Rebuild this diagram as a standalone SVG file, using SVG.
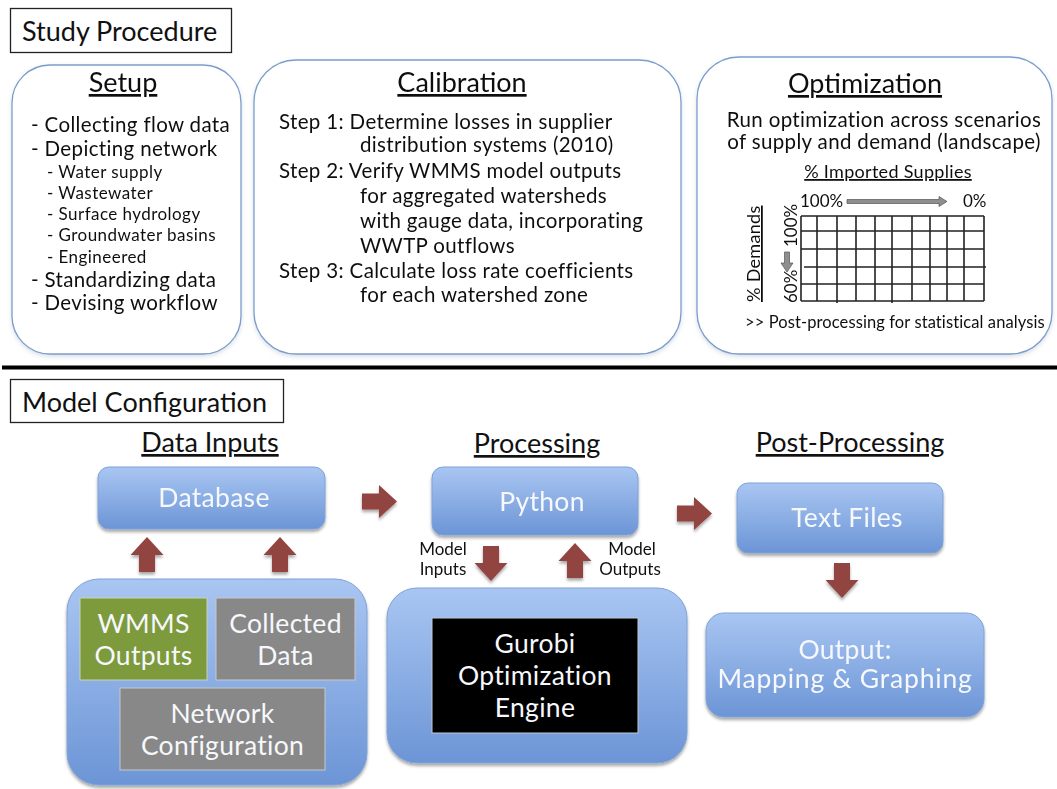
<svg xmlns="http://www.w3.org/2000/svg" width="1057" height="789" viewBox="0 0 1057 789">
  <defs>
    <linearGradient id="blueFill" x1="0" y1="0" x2="0" y2="1">
      <stop offset="0" stop-color="#a9c6f2"/>
      <stop offset="1" stop-color="#6c95d6"/>
    </linearGradient>
    <filter id="shadow" x="-10%" y="-10%" width="120%" height="130%">
      <feDropShadow dx="0" dy="2.5" stdDeviation="1.8" flood-color="#000" flood-opacity="0.35"/>
    </filter>
    <filter id="softShadow" x="-10%" y="-10%" width="120%" height="130%">
      <feDropShadow dx="0" dy="2" stdDeviation="2" flood-color="#6a7a99" flood-opacity="0.25"/>
    </filter>
    <!-- block arrow pointing right, origin at tail centre, length 35 -->
    <path id="arrowRight" d="M0,-8 L17,-8 L17,-16.5 L35,0 L17,16.5 L17,8 L0,8 Z"/>
  </defs>
  <style>
    text { font-family: "Lato", "Liberation Sans", sans-serif; fill: #111; }
    .heading { font-size: 27px; }
    .title { font-size: 27px; text-decoration: underline; text-anchor: middle; }
    .item { font-size: 20.5px; letter-spacing: 0.35px; }
    .sub { font-size: 17px; letter-spacing: 0.45px; }
    .small { font-size: 16.5px; }
    .label { font-size: 26.5px; letter-spacing: 0.3px; fill: #f6f8fc; text-anchor: middle; }
    .tag { font-size: 17px; text-anchor: middle; }
    .panel { fill: #fff; stroke: #7c9dcc; stroke-width: 1.3; }
    .frame { fill: #fff; stroke: #222; stroke-width: 1.3; }
    .blue { fill: url(#blueFill); stroke: #7fa2d8; stroke-width: 1; }
    .flow { fill: #92453f; }
    .grid line { stroke: #222; stroke-width: 1.6; }
  </style>

  <!-- ===== Study procedure ===== -->
  <g id="study-procedure-label">
    <rect class="frame" x="10.5" y="8.5" width="221" height="44"/>
    <text class="heading" x="22" y="41">Study Procedure</text>
  </g>

  <g id="setup" filter="url(#softShadow)">
    <rect class="panel" x="12" y="65" width="229" height="289" rx="38"/>
    <text class="title" x="123" y="92">Setup</text>
    <text class="item" x="31" y="132">- Collecting flow data</text>
    <text class="item" x="31" y="156">- Depicting network</text>
    <text class="sub" x="47" y="178">- Water supply</text>
    <text class="sub" x="47" y="199">- Wastewater</text>
    <text class="sub" x="47" y="220">- Surface hydrology</text>
    <text class="sub" x="47" y="241">- Groundwater basins</text>
    <text class="sub" x="47" y="263">- Engineered</text>
    <text class="item" x="31" y="287">- Standardizing data</text>
    <text class="item" x="31" y="310">- Devising workflow</text>
  </g>

  <g id="calibration" filter="url(#softShadow)">
    <rect class="panel" x="254" y="60" width="427" height="294" rx="42"/>
    <text class="title" x="462" y="92">Calibration</text>
    <text class="item" x="279" y="129">Step 1: Determine losses in supplier</text>
    <text class="item" x="360" y="152">distribution systems (2010)</text>
    <text class="item" x="279" y="178">Step 2: Verify WMMS model outputs</text>
    <text class="item" x="360" y="203">for aggregated watersheds</text>
    <text class="item" x="360" y="228">with gauge data, incorporating</text>
    <text class="item" x="360" y="253">WWTP outflows</text>
    <text class="item" x="279" y="278">Step 3: Calculate loss rate coefficients</text>
    <text class="item" x="360" y="302">for each watershed zone</text>
  </g>

  <g id="optimization" filter="url(#softShadow)">
    <rect class="panel" x="697" y="57" width="355" height="297" rx="42"/>
    <text class="title" x="865" y="93">Optimization</text>
    <text class="item" x="884" y="127" text-anchor="middle">Run optimization across scenarios</text>
    <text class="item" x="884" y="149" text-anchor="middle">of supply and demand (landscape)</text>
    <text class="small" x="888" y="178" text-anchor="middle" text-decoration="underline" style="font-size:18px;letter-spacing:0.3px">% Imported Supplies</text>
    <text class="small" x="800" y="207" style="font-size:17px">100%</text>
    <text class="small" x="963" y="207" style="font-size:17px">0%</text>
    <!-- supply axis arrow -->
    <path d="M847,199.5 L939,199.5 L939,196.5 L947,201.5 L939,206.5 L939,203.5 L847,203.5 Z" fill="#8e8e8e" stroke="#555" stroke-width="0.7"/>
    <!-- demand axis -->
    <text class="small" transform="translate(760,302) rotate(-90)" text-decoration="underline" style="font-size:18px;letter-spacing:0.3px">% Demands</text>
    <text class="small" transform="translate(797,247) rotate(-90)" style="font-size:17px">100%</text>
    <text class="small" transform="translate(797,303) rotate(-90)" style="font-size:17px">60%</text>
    <path d="M784.5,252 L789.5,252 L789.5,263 L793,263 L787,272 L781,263 L784.5,263 Z" fill="#8e8e8e" stroke="#555" stroke-width="0.7"/>
    <!-- scenario grid -->
    <g class="grid">
      <line x1="801" y1="216" x2="984" y2="216"/>
      <line x1="801" y1="231" x2="984" y2="231"/>
      <line x1="801" y1="249" x2="984" y2="249"/>
      <line x1="804" y1="267" x2="986" y2="267"/>
      <line x1="801" y1="284" x2="984" y2="284"/>
      <line x1="801" y1="301" x2="984" y2="301"/>
      <line x1="801" y1="216" x2="801" y2="301"/>
      <line x1="817" y1="216" x2="817" y2="301"/>
      <line x1="837" y1="216" x2="837" y2="303"/>
      <line x1="856" y1="216" x2="856" y2="301"/>
      <line x1="875" y1="216" x2="875" y2="301"/>
      <line x1="892" y1="216" x2="892" y2="303"/>
      <line x1="912" y1="216" x2="912" y2="301"/>
      <line x1="930" y1="216" x2="930" y2="301"/>
      <line x1="947" y1="216" x2="947" y2="301"/>
      <line x1="964" y1="216" x2="964" y2="301"/>
      <line x1="984" y1="216" x2="984" y2="301"/>
    </g>
    <text class="small" x="745" y="328" style="letter-spacing:0.1px">&gt;&gt; Post-processing for statistical analysis</text>
  </g>

  <!-- section divider -->
  <line x1="2" y1="367.5" x2="1057" y2="367.5" stroke="#000" stroke-width="4"/>

  <!-- ===== Model configuration ===== -->
  <g id="model-configuration-label">
    <rect class="frame" x="10.5" y="379.5" width="273" height="43"/>
    <text class="heading" x="22" y="412">Model Configuration</text>
  </g>

  <g id="column-headings">
    <text class="title" x="210" y="452">Data Inputs</text>
    <text class="title" x="537" y="453">Processing</text>
    <text class="title" x="850" y="452">Post-Processing</text>
  </g>

  <g id="database" filter="url(#shadow)">
    <rect class="blue" x="98" y="467" width="227" height="62" rx="11"/>
    <text class="label" x="214" y="507">Database</text>
  </g>

  <g id="data-sources">
    <rect class="blue" x="67" y="579" width="300" height="206" rx="32" filter="url(#shadow)"/>
    <g id="wmms-outputs">
      <rect x="80" y="598" width="127" height="82" fill="#7d9a3c" stroke="#c9d3b6" stroke-width="1"/>
      <text class="label" x="143.5" y="633">WMMS</text>
      <text class="label" x="143.5" y="665">Outputs</text>
    </g>
    <g id="collected-data">
      <rect x="216" y="598" width="139" height="82" fill="#888888" stroke="#c8c8c8" stroke-width="1"/>
      <text class="label" x="285.5" y="633">Collected</text>
      <text class="label" x="285.5" y="665">Data</text>
    </g>
    <g id="network-configuration">
      <rect x="120" y="688" width="205" height="82" fill="#888888" stroke="#c8c8c8" stroke-width="1"/>
      <text class="label" x="222.5" y="723">Network</text>
      <text class="label" x="222.5" y="755">Configuration</text>
    </g>
  </g>

  <g id="python" filter="url(#shadow)">
    <rect class="blue" x="432" y="467" width="206" height="68" rx="11"/>
    <text class="label" x="542" y="511">Python</text>
  </g>

  <g id="gurobi">
    <rect class="blue" x="387" y="588" width="300" height="175" rx="30" filter="url(#shadow)"/>
    <rect x="432" y="618" width="206" height="115" fill="#000" stroke="#bfc7d6" stroke-width="1"/>
    <text class="label" x="535" y="653">Gurobi</text>
    <text class="label" x="535" y="685">Optimization</text>
    <text class="label" x="535" y="717">Engine</text>
  </g>

  <g id="text-files" filter="url(#shadow)">
    <rect class="blue" x="737" y="483" width="206" height="70" rx="11"/>
    <text class="label" x="847" y="527">Text Files</text>
  </g>

  <g id="mapping-output" filter="url(#shadow)">
    <rect class="blue" x="706" y="613" width="278" height="104" rx="18"/>
    <text class="label" x="845" y="659">Output:</text>
    <text class="label" x="845" y="688" style="letter-spacing:0.8px">Mapping &amp; Graphing</text>
  </g>

  <!-- ===== Connectors ===== -->
  <g id="connectors" filter="url(#shadow)">
    <!-- sources up to database -->
    <use href="#arrowRight" class="flow" transform="translate(147,572) rotate(-90)"/>
    <use href="#arrowRight" class="flow" transform="translate(280,572) rotate(-90)"/>
    <!-- database to python -->
    <use href="#arrowRight" class="flow" transform="translate(362,501.5)"/>
    <!-- python to text files -->
    <use href="#arrowRight" class="flow" transform="translate(677,513.5)"/>
    <!-- python down to solver, solver back up -->
    <use href="#arrowRight" class="flow" transform="translate(491,546) rotate(90)"/>
    <use href="#arrowRight" class="flow" transform="translate(575,578) rotate(-90)"/>
    <!-- text files to output -->
    <use href="#arrowRight" class="flow" transform="translate(842,563) rotate(90)"/>
  </g>
  <g id="connector-labels">
    <text class="tag" x="443" y="555">Model</text>
    <text class="tag" x="443" y="575">Inputs</text>
    <text class="tag" x="632" y="555">Model</text>
    <text class="tag" x="630" y="575">Outputs</text>
  </g>
</svg>
